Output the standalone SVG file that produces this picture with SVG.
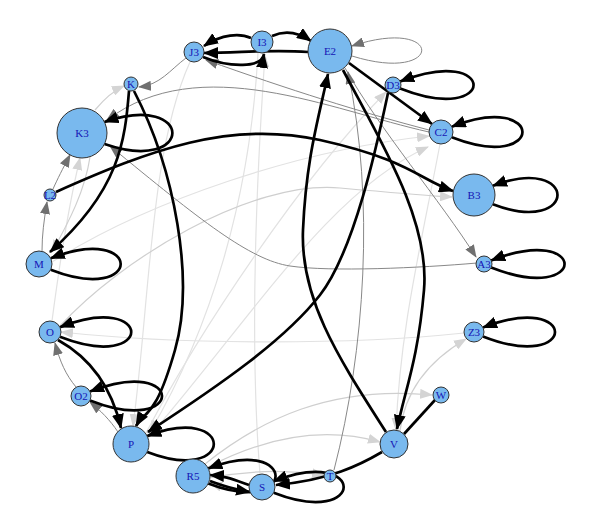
<svg xmlns="http://www.w3.org/2000/svg" width="592" height="532" viewBox="0 0 592 532">
<style>
.n{fill:#79B9EE;stroke:#333;stroke-width:1}
.t{font-family:"Liberation Serif",serif;font-size:11px;fill:#1515B5;text-anchor:middle}
.b{fill:none;stroke:#000;stroke-width:2.7;marker-end:url(#ab)}
.g{fill:none;stroke:#888;stroke-width:1;marker-end:url(#ag)}
.l{fill:none;stroke:#cfcfcf;stroke-width:1.2;marker-end:url(#al)}
.v{fill:none;stroke:#e2e2e2;stroke-width:1.2;marker-end:url(#al)}
</style>
<defs>
<marker id="ab" markerWidth="15" markerHeight="12" refX="14" refY="6" orient="auto" markerUnits="userSpaceOnUse"><path d="M0,0 L15,6 L0,12 z" fill="#000"/></marker>
<marker id="ag" markerWidth="13" markerHeight="10" refX="12" refY="5" orient="auto" markerUnits="userSpaceOnUse"><path d="M0,0 L13,5 L0,10 z" fill="#707070"/></marker>
<marker id="al" markerWidth="13" markerHeight="10" refX="12" refY="5" orient="auto" markerUnits="userSpaceOnUse"><path d="M0,0 L13,5 L0,10 z" fill="#d4d4d4"/></marker>
</defs>
<rect width="592" height="532" fill="#fff"/>
<g id="edges">
<path class="v" d="M260,474 C250,350 255,200 265,55"/>
<path class="v" d="M464,333 C350,345 180,345 61,332"/>
<path class="v" d="M52,321 C60,260 70,200 80,158"/>
<path class="v" d="M52,262 C150,200 300,150 429,136"/>
<path class="v" d="M190,62 C150,150 150,300 133,426"/>
<path class="v" d="M258,53 C250,200 210,330 150,432"/>
<path class="v" d="M146,433 C200,330 300,180 386,92"/>
<path class="v" d="M440,144 C420,250 400,330 396,430"/>
<path class="v" d="M148,438 C250,320 330,190 428,147"/>
<path class="l" d="M400,431 C405,390 430,360 466,339"/>
<path class="l" d="M205,464 C260,420 330,385 432,395"/>
<path class="l" d="M208,467 C260,440 320,425 380,442"/>
<path class="l" d="M209,478 C250,470 290,470 324,475"/>
<path class="l" d="M249,492 C235,492 225,488 210,483"/>
<path class="l" d="M90,157 C85,190 70,220 52,252"/>
<path class="l" d="M95,110 C105,98 115,90 124,86"/>
<path class="l" d="M60,326 C120,260 250,180 340,188 S420,195 452,197"/>
<path class="g" d="M186,58 C170,70 160,85 139,87"/>
<path class="g" d="M429,132 C330,110 200,50 107,120"/>
<path class="g" d="M429,130 C360,112 290,90 206,60"/>
<path class="g" d="M345,68 C380,130 440,200 476,257"/>
<path class="g" d="M477,263 C420,268 330,272 290,266 S200,220 110,146"/>
<path class="g" d="M42,251 C42,235 44,220 47,202"/>
<path class="g" d="M53,189 C58,178 62,170 70,155"/>
<path class="g" d="M76,387 C66,375 60,362 55,343"/>
<path class="g" d="M118,432 C110,420 100,410 90,402"/>
<path class="g" d="M334,470 C365,350 375,200 348,72"/>
<path class="g" d="M352,56 C445,85 445,15 352,46"/>
<path class="b" d="M251,38 C240,33 222,34 204,46"/>
<path class="b" d="M308,52 C270,49 240,53 204,53"/>
<path class="b" d="M203,57 C230,68 262,68 264,54"/>
<path class="b" d="M272,36 C285,30 298,32 311,41"/>
<path class="b" d="M349,63 L432,124"/>
<path class="b" d="M388,93 C378,140 355,250 320,295 S220,385 148,432"/>
<path class="b" d="M343,70 C380,140 430,220 424,290 S405,390 397,429"/>
<path class="b" d="M386,432 C340,360 300,300 303,230 S318,120 328,74"/>
<path class="b" d="M56,192 C150,150 230,120 320,140 S420,180 453,191"/>
<path class="b" d="M134,91 C175,170 195,280 175,350 S145,410 136,426"/>
<path class="b" d="M129,91 C125,140 120,190 50,252"/>
<path class="b" d="M58,340 C85,355 110,380 121,428"/>
<path class="b" d="M382,452 C360,465 330,480 276,485"/>
<path class="b" d="M249,485 C232,479 225,476 210,475"/>
<path class="b" d="M210,481 C228,488 238,490 250,492"/>
<path d="M435,400 L404,434" fill="none" stroke="#000" stroke-width="2.7"/>
<path class="b" d="M400.2,88.5 C498,127 498,43 400.2,81.5"/>
<path class="b" d="M451.8,137.3 C546,174 546,90 451.8,126.7"/>
<path class="b" d="M492.9,204.2 C579,237 579,153 492.9,185.8"/>
<path class="b" d="M491.2,267.5 C589,306 589,222 491.2,260.5"/>
<path class="b" d="M483,336.4 C579,374 579,290 483,327.6"/>
<path class="b" d="M50.7,269.7 C144,306 144,222 50.7,258.3"/>
<path class="b" d="M59.9,336.8 C155,374 155,290 59.9,327.2"/>
<path class="b" d="M104.5,144 C195,175 195,91 104.5,122"/>
<path class="b" d="M147.2,451.9 C236,486 236,402 147.2,436.1"/>
<path class="b" d="M90,400.4 C186,438 186,354 90,391.6"/>
<path class="b" d="M208.3,483.5 C298,518 298,434 208.3,468.5"/>
<path class="b" d="M273.7,492.7 C367,529 367,445 273.7,481.3"/>
</g>
<g id="node-J3"><circle class="n" cx="194" cy="52" r="10"/><text class="t" x="194" y="56">J3</text></g>
<g id="node-I3"><circle class="n" cx="262" cy="42" r="11"/><text class="t" x="262" y="46">I3</text></g>
<g id="node-E2"><circle class="n" cx="330" cy="51" r="22"/><text class="t" x="330" y="55">E2</text></g>
<g id="node-D3"><circle class="n" cx="393" cy="85" r="8"/><text class="t" x="393" y="89">D3</text></g>
<g id="node-C2"><circle class="n" cx="441" cy="132" r="12"/><text class="t" x="441" y="136">C2</text></g>
<g id="node-B3"><circle class="n" cx="474" cy="195" r="21"/><text class="t" x="474" y="199">B3</text></g>
<g id="node-A3"><circle class="n" cx="484" cy="264" r="8"/><text class="t" x="484" y="268">A3</text></g>
<g id="node-Z3"><circle class="n" cx="474" cy="332" r="10"/><text class="t" x="474" y="336">Z3</text></g>
<g id="node-W"><circle class="n" cx="441" cy="395" r="8"/><text class="t" x="441" y="399">W</text></g>
<g id="node-V"><circle class="n" cx="394" cy="444" r="14"/><text class="t" x="394" y="448">V</text></g>
<g id="node-T"><circle class="n" cx="330" cy="476" r="6"/><text class="t" x="330" y="480">T</text></g>
<g id="node-S"><circle class="n" cx="262" cy="487" r="13"/><text class="t" x="262" y="491">S</text></g>
<g id="node-R5"><circle class="n" cx="193" cy="476" r="17"/><text class="t" x="193" y="480">R5</text></g>
<g id="node-P"><circle class="n" cx="131" cy="444" r="18"/><text class="t" x="131" y="448">P</text></g>
<g id="node-O2"><circle class="n" cx="81" cy="396" r="10"/><text class="t" x="81" y="400">O2</text></g>
<g id="node-O"><circle class="n" cx="50" cy="332" r="11"/><text class="t" x="50" y="336">O</text></g>
<g id="node-M"><circle class="n" cx="39" cy="264" r="13"/><text class="t" x="39" y="268">M</text></g>
<g id="node-L2"><circle class="n" cx="50" cy="195" r="6"/><text class="t" x="50" y="199">L2</text></g>
<g id="node-K3"><circle class="n" cx="82" cy="133" r="25"/><text class="t" x="82" y="137">K3</text></g>
<g id="node-K"><circle class="n" cx="131" cy="84" r="7"/><text class="t" x="131" y="88">K</text></g>
</svg>
